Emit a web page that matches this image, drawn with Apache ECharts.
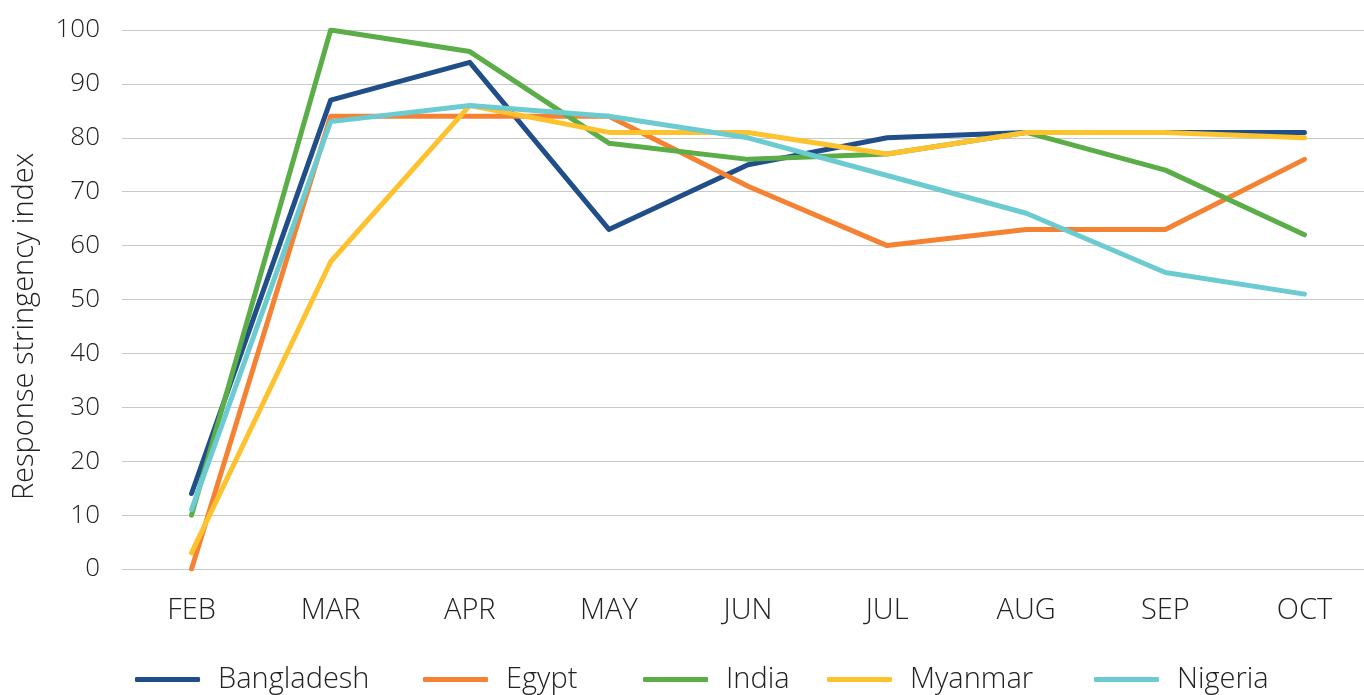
<!DOCTYPE html>
<html>
<head>
<meta charset="utf-8">
<script src="https://cdn.jsdelivr.net/npm/echarts@6/dist/echarts.min.js"></script>
<style>
	html,body{margin:0;padding:0;background:#fff;overflow:hidden;}
	/* plot runs past the right edge like the source image, so the div is a bit wider */
	#chart{width:1374px;height:695px;}
</style>
</head>
<body>
<div id="chart"></div>
<script>
	// months on the x axis
	var months = ['FEB','MAR','APR','MAY','JUN','JUL','AUG','SEP','OCT'];
	// response stringency index per country
	var bangladesh = [14, 87, 94, 63, 75, 80, 81, 81, 81];
	var egypt      = [0, 84, 84, 84, 71, 60, 63, 63, 76];
	var india      = [10, 100, 96, 79, 76, 77, 81, 74, 62];
	var myanmar    = [3, 57, 86, 81, 81, 77, 81, 81, 80];
	var nigeria    = [11, 83, 86, 84, 80, 73, 66, 55, 51];

	var countries = ['Bangladesh','Egypt','India','Myanmar','Nigeria'];
	var values = [bangladesh, egypt, india, myanmar, nigeria];
	var colors = ['#1f4e89','#f58232','#5aad47','#fdc22d','#6ccbd1'];
	// x of each legend entry, as laid out in the source
	var legendLeft = [135, 423, 643, 827, 1094];

	var font = '"Open Sans", sans-serif';
	var seriesArr = [];
	var legendArr = [];
	for (var i = 0; i < countries.length; i++) {
		seriesArr.push({
			name: countries[i],
			type: 'line',
			symbol: 'none',
			data: values[i],
			lineStyle: {width: 5, cap: 'round', join: 'round'}
		});
		legendArr.push({
			data: [countries[i]],
			left: legendLeft[i],
			top: 665,
			padding: 0,
			itemWidth: 65,
			itemHeight: 5,
			icon: 'roundRect',
			textStyle: {fontFamily: font, fontSize: 29, fontWeight: 300, color: '#222', padding: [0, 0, 0, 13]}
		});
	}

	var chart = echarts.init(document.getElementById('chart'));
	var option = {
		animation: false,
		color: colors,
		grid: {left: 122, right: 0, top: 30, bottom: 126},
		legend: legendArr,
		xAxis: {
			type: 'category',
			data: months,
			boundaryGap: true,
			axisLine: {show: false},
			axisTick: {show: false},
			axisLabel: {margin: 27, fontFamily: font, fontSize: 29, fontWeight: 300, color: '#222'}
		},
		yAxis: {
			type: 'value',
			min: 0,
			max: 100,
			interval: 10,
			name: 'Response stringency index',
			nameLocation: 'middle',
			nameGap: 83,
			nameTextStyle: {fontFamily: font, fontSize: 29, fontWeight: 300, color: '#222', padding: [0, 54, 0, 0]},
			axisLine: {show: false},
			axisTick: {show: false},
			axisLabel: {margin: 22, fontFamily: font, fontSize: 26, fontWeight: 300, color: '#222'},
			splitLine: {lineStyle: {color: '#c9c9c9', width: 1}}
		},
		series: seriesArr
	};
	chart.setOption(option);
</script>
</body>
</html>
